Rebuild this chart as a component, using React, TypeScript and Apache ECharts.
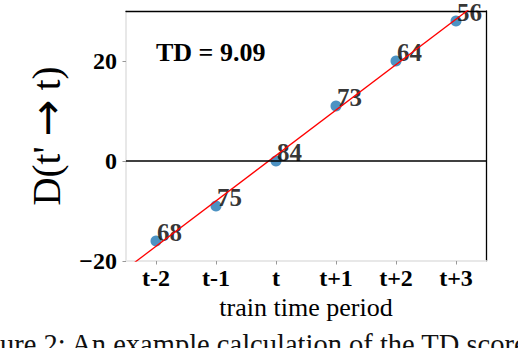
import React, { useEffect, useRef } from "react";
import * as echarts from "echarts";

const categories = ["t-2", "t-1", "t", "t+1", "t+2", "t+3"];
const dValues = [-16, -9, 0, 11, 20, 28];
const pointLabels = [68, 75, 84, 73, 64, 56];
const fitLine = [
  [-2.5, -21.6],
  [3.5, 32.9],
];
const yTicks = [-20, 0, 20];
const tdScore = "9.09";
const caption = "Figure 2: An example calculation of the TD score.";

const SERIF = '"Liberation Serif", "DejaVu Serif", serif';

export default function App() {
  const ref = useRef<HTMLDivElement>(null);
  useEffect(() => {
    if (!ref.current) return;
    const chart = echarts.init(ref.current, null, { renderer: "svg" });
    const fmtY = (v: number) => (v < 0 ? "\u2212" + Math.abs(v) : String(v));
    chart.setOption({
      animation: false,
      backgroundColor: "#ffffff",
      grid: { left: 126, top: 11, width: 360, height: 250, containLabel: false },
      xAxis: [
        {
          type: "category",
          data: categories,
          position: "bottom",
          boundaryGap: true,
          name: "train time period",
          nameLocation: "middle",
          nameGap: 29,
          nameTextStyle: { fontFamily: SERIF, fontSize: 26, color: "#000" },
          axisLine: { show: true, onZero: false, lineStyle: { color: "#e8e8e8", width: 2 } },
          axisTick: { show: true, alignWithLabel: true, length: 3.5, lineStyle: { color: "#999" } },
          axisLabel: {
            margin: 5,
            fontFamily: SERIF,
            fontWeight: "bold",
            fontSize: 24,
            color: "#000",
          },
          splitLine: { show: false },
        },
        {
          type: "value",
          min: -2.5,
          max: 3.5,
          position: "top",
          axisLine: { show: true, onZero: false, lineStyle: { color: "#000", width: 1.3 } },
          axisTick: { show: false },
          axisLabel: { show: false },
          splitLine: { show: false },
        },
      ],
      yAxis: [
        {
          type: "value",
          min: -20,
          max: 30,
          position: "left",
          name: "{n|D(t' }{a|\u2192}{n| t)}",
          nameLocation: "middle",
          nameRotate: 90,
          nameGap: 52,
          nameTextStyle: {
            fontFamily: SERIF,
            fontSize: 39,
            color: "#000",
            rich: {
              n: { fontFamily: SERIF, fontSize: 39, color: "#000" },
              a: { fontFamily: '"DejaVu Sans", sans-serif', fontSize: 44, color: "#000" },
            },
          },
          axisLine: { show: true, onZero: false, lineStyle: { color: "#e8e8e8", width: 2 } },
          axisTick: { show: true, length: 3.5, customValues: yTicks, lineStyle: { color: "#999" } },
          axisLabel: {
            customValues: yTicks,
            formatter: fmtY,
            margin: 9,
            fontFamily: SERIF,
            fontWeight: "bold",
            fontSize: 24,
            color: "#000",
          },
          splitLine: { show: false },
        },
        {
          type: "value",
          min: -20,
          max: 30,
          position: "right",
          axisLine: { show: true, onZero: false, lineStyle: { color: "#000", width: 1.3 } },
          axisTick: { show: false },
          axisLabel: { show: false },
          splitLine: { show: false },
        },
      ],
      series: [
        {
          type: "scatter",
          xAxisIndex: 0,
          yAxisIndex: 0,
          data: dValues,
          symbolSize: 11,
          itemStyle: { color: "#1f77b4" },
          z: 2,
          label: {
            show: true,
            position: [6.5, -3.5],
            align: "left",
            verticalAlign: "middle",
            formatter: (p: any) => String(pointLabels[p.dataIndex]),
            fontFamily: SERIF,
            fontWeight: "bold",
            fontSize: 25,
            color: "#000",
            textBorderWidth: 0,
          },
          markLine: {
            silent: true,
            symbol: "none",
            label: { show: false },
            lineStyle: { color: "#000", width: 1.6, type: "solid" },
            data: [{ yAxis: 0 }],
          },
        },
        {
          type: "line",
          xAxisIndex: 1,
          yAxisIndex: 0,
          data: fitLine,
          symbol: "none",
          clip: true,
          lineStyle: { color: "#ff0000", width: 1.3 },
          z: 3,
        },
      ],
      graphic: [
        {
          type: "text",
          x: 156,
          y: 52,
          style: {
            text: "TD = " + tdScore,
            fontFamily: SERIF,
            fontWeight: "bold",
            fontSize: 26,
            fill: "#000",
            align: "left",
            verticalAlign: "middle",
          },
        },
        {
          type: "text",
          x: -38,
          y: 344,
          style: {
            text: caption,
            fontFamily: SERIF,
            fontSize: 28.5,
            fill: "#111",
            align: "left",
            verticalAlign: "middle",
          },
        },
      ],
    });
    return () => chart.dispose();
  }, []);
  return (
    <div
      ref={ref}
      style={{ position: "absolute", left: 0, top: 0, width: 518, height: 348 }}
    />
  );
}
